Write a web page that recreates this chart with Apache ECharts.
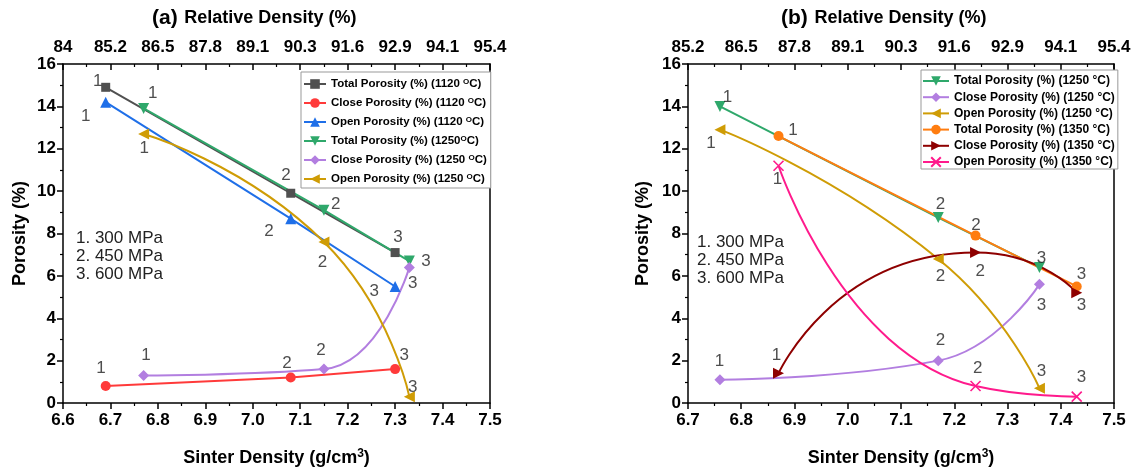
<!DOCTYPE html>
<html><head><meta charset="utf-8">
<script src="https://cdn.jsdelivr.net/npm/echarts@6/dist/echarts.min.js"></script>
<style>html,body{margin:0;padding:0;background:#fff}#c{width:1137px;height:472px}</style>
</head><body><div id="c"></div>
<script>
// ---------- Panel (a) data ----------
const relDensityLabelsA = ['84','85.2','86.5','87.8','89.1','90.3','91.6','92.9','94.1','95.4'];
const sinterA1120 = [6.69, 7.08, 7.30];
const sinterA1250 = [6.77, 7.15, 7.33];
const totalA1120 = [14.9, 9.9, 7.1];
const closeA1120 = [0.8, 1.2, 1.6];
const openA1120  = [14.2, 8.7, 5.5];
const totalA1250 = [13.9, 9.1, 6.7];
const closeA1250 = [1.3, 1.6, 6.4];
const openA1250  = [12.7, 7.6, 0.3];
const namesA = ['Total Porosity (%) (1120 ^OC)','Close Porosity (%) (1120 ^OC)','Open Porosity (%) (1120 ^OC)',
                'Total Porosity (%) (1250^OC)','Close Porosity (%) (1250 ^OC)','Open Porosity (%) (1250 ^OC)'];
// point-number annotations [sinter density, porosity, text]
const annotA = [
  [6.673,15.18,'1'],[6.789,14.64,'1'],[6.648,13.55,'1'],[6.771,12.0,'1'],[6.775,2.23,'1'],[6.68,1.63,'1'],
  [7.07,10.76,'2'],[7.175,9.36,'2'],[7.034,8.09,'2'],[7.147,6.65,'2'],[7.072,1.86,'2'],[7.144,2.47,'2'],
  [7.306,7.81,'3'],[7.365,6.70,'3'],[7.337,5.64,'3'],[7.256,5.26,'3'],[7.319,2.23,'3'],[7.337,0.74,'3']
];

// ---------- Panel (b) data ----------
const relDensityLabelsB = ['85.2','86.5','87.8','89.1','90.3','91.6','92.9','94.1','95.4'];
const sinterB1250 = [6.76, 7.17, 7.36];
const sinterB1350 = [6.87, 7.24, 7.43];
const totalB1250 = [14.0, 8.75, 6.4];
const closeB1250 = [1.1, 2.0, 5.6];
const openB1250  = [12.9, 6.8, 0.7];
const totalB1350 = [12.6, 7.9, 5.5];
const closeB1350 = [1.4, 7.1, 5.2];
const openB1350  = [11.2, 0.8, 0.3];
const namesB = ['Total Porosity (%) (1250 °C)','Close Porosity (%) (1250 °C)','Open Porosity (%) (1250 °C)',
                'Total Porosity (%) (1350 °C)','Close Porosity (%) (1350 °C)','Open Porosity (%) (1350 °C)'];
const annotB = [
  [6.774,14.43,'1'],[6.743,12.25,'1'],[6.897,12.87,'1'],[6.868,10.55,'1'],[6.759,1.96,'1'],[6.866,2.27,'1'],
  [7.174,9.39,'2'],[7.174,5.99,'2'],[7.241,8.40,'2'],[7.249,6.22,'2'],[7.174,2.97,'2'],[7.244,1.66,'2'],
  [7.364,6.84,'3'],[7.439,6.06,'3'],[7.364,4.63,'3'],[7.439,4.63,'3'],[7.364,1.50,'3'],[7.439,1.19,'3']
];

const pressureLabels = ['1. 300 MPa','2. 450 MPa','3. 600 MPa'];
const yTicks = [0,16,2];

// ---------- styles ----------
const FONT = "'Liberation Sans', Arial, sans-serif";
const C = {gray:'#505050', red:'#ff3a3a', blue:'#1f6fe8', green:'#2fa86b', purple:'#b27ee0',
           gold:'#cf9c05', orange:'#ff7d10', dred:'#8e0000', pink:'#ff1a8c'};
const crossPath = 'path://M0,0L10,10M10,0L0,10';

const pair = (xs, ys) => xs.map((x,i)=>[x, ys[i]]);

function mkSeries(name, xs, ys, color, symbol, rot, smooth, gi, size){
  return {
    type:'line', name, data: pair(xs, ys), xAxisIndex: gi*2, yAxisIndex: gi*2,
    smooth: smooth || false, symbol, symbolRotate: rot, symbolSize: size || 10,
    showAllSymbol: true,
    lineStyle:{color, width:2}, itemStyle:{color, borderColor:color, borderWidth: symbol===crossPath?1.6:0},
    emphasis:{disabled:true}, z: 3
  };
}

function annotSeries(list, gi){
  return {
    type:'scatter', data: list.map(a=>({value:[a[0],a[1]], label:{formatter:a[2]}})),
    xAxisIndex: gi*2, yAxisIndex: gi*2, symbolSize:1, itemStyle:{color:'rgba(0,0,0,0)'},
    silent:true, z:5,
    label:{show:true, position:'inside', fontFamily:FONT, fontSize:17, color:'#222'}
  };
}

function bottomAxis(gi, min){
  return {type:'value', gridIndex:gi, position:'bottom', min, max:7.5, interval:0.1,
    axisLine:{show:true, onZero:false, lineStyle:{color:'#000', width:1.5}},
    axisTick:{show:true, length:6, lineStyle:{color:'#000', width:1.5}},
    minorTick:{show:true, splitNumber:2, length:3, lineStyle:{color:'#000', width:1.2}},
    splitLine:{show:false},
    axisLabel:{fontFamily:FONT, fontWeight:'bold', fontSize:17, color:'#000', margin:9,
      formatter: v => v.toFixed(1)},
    name:'Sinter Density (g/cm{s|3})', nameLocation:'middle', nameGap:45,
    nameTextStyle:{fontFamily:FONT, fontWeight:'bold', fontSize:18, color:'#000',
      rich:{s:{fontSize:12, fontWeight:'bold', fontFamily:FONT, verticalAlign:'top', padding:[0,0,8,0]}}}
  };
}
function topAxis(gi, min, labels){
  return {type:'value', gridIndex:gi, position:'top', min, max:7.5, interval:0.1,
    axisLine:{show:true, onZero:false, lineStyle:{color:'#000', width:1.5}},
    axisTick:{show:true, inside:true, length:6, lineStyle:{color:'#000', width:1.5}},
    minorTick:{show:true, splitNumber:2, length:3, lineStyle:{color:'#000', width:1.2}},
    splitLine:{show:false},
    axisLabel:{fontFamily:FONT, fontWeight:'bold', fontSize:17, color:'#000', margin:8,
      formatter: v => labels[Math.round((v-min)/0.1)] || ''}
  };
}
function leftAxis(gi, gap){
  return {type:'value', gridIndex:gi, position:'left', min:yTicks[0], max:yTicks[1], interval:yTicks[2],
    axisLine:{show:true, onZero:false, lineStyle:{color:'#000', width:1.5}},
    axisTick:{show:true, length:6, lineStyle:{color:'#000', width:1.5}},
    minorTick:{show:true, splitNumber:2, length:3, lineStyle:{color:'#000', width:1.2}},
    splitLine:{show:false},
    axisLabel:{fontFamily:FONT, fontWeight:'bold', fontSize:17, color:'#000', margin:7},
    name:'Porosity (%)', nameLocation:'middle', nameGap:gap, nameRotate:90,
    nameTextStyle:{fontFamily:FONT, fontWeight:'bold', fontSize:18, color:'#000'}
  };
}
function rightAxis(gi){
  return {type:'value', gridIndex:gi, position:'right', min:yTicks[0], max:yTicks[1], interval:yTicks[2],
    axisLine:{show:true, onZero:false, lineStyle:{color:'#000', width:1.5}},
    axisTick:{show:false}, axisLabel:{show:false}, splitLine:{show:false}};
}

const series = [
  mkSeries(namesA[0], sinterA1120, totalA1120, C.gray, 'rect', 0, 0, 0, 9),
  mkSeries(namesA[1], sinterA1120, closeA1120, C.red, 'circle', 0, 0, 0, 10),
  mkSeries(namesA[2], sinterA1120, openA1120, C.blue, 'triangle', 0, 0, 0, 11),
  mkSeries(namesA[3], sinterA1250, totalA1250, C.green, 'triangle', 180, 0, 0, 11),
  mkSeries(namesA[4], sinterA1250, closeA1250, C.purple, 'diamond', 0, 0.5, 0, 11),
  mkSeries(namesA[5], sinterA1250, openA1250, C.gold, 'triangle', 90, 0.55, 0, 11),
  mkSeries(namesB[0], sinterB1250, totalB1250, C.green, 'triangle', 180, 0, 1, 11),
  mkSeries(namesB[1], sinterB1250, closeB1250, C.purple, 'diamond', 0, 0.5, 1, 11),
  mkSeries(namesB[2], sinterB1250, openB1250, C.gold, 'triangle', 90, 0.55, 1, 11),
  mkSeries(namesB[3], sinterB1350, totalB1350, C.orange, 'circle', 0, 0, 1, 10),
  mkSeries(namesB[4], sinterB1350, closeB1350, C.dred, 'triangle', -90, 0.7, 1, 11),
  mkSeries(namesB[5], sinterB1350, openB1350, C.pink, crossPath, 0, 0.6, 1, 10),
  annotSeries(annotA, 0),
  annotSeries(annotB, 1)
];

const legendA = {
  data: namesA, orient:'vertical', left:301, top:72, itemWidth:22, itemHeight:12, itemGap:6,
  padding:[6,4,2,2], borderColor:'#999', borderWidth:1, backgroundColor:'#fff',
  selectedMode:false,
  formatter: n => { const p = n.split('^O'); return '{t|'+p[0]+'}{s|O}{t|'+p[1]+'}'; },
  textStyle:{fontFamily:FONT, fontWeight:'bold', fontSize:11.5, color:'#000',
    rich:{t:{fontFamily:FONT, fontWeight:'bold', fontSize:11.5, color:'#000', lineHeight:12},
          s:{fontFamily:FONT, fontWeight:'bold', fontSize:8, color:'#000', verticalAlign:'top', lineHeight:12, padding:[0,0,5,0]}}}
};
const legendB = {
  data: namesB, orient:'vertical', left:921, top:70, itemWidth:26, itemHeight:12, itemGap:4.2,
  padding:[5,3,1,1], borderColor:'#999', borderWidth:1, backgroundColor:'#fff',
  selectedMode:false,
  textStyle:{fontFamily:FONT, fontWeight:'bold', fontSize:12, color:'#000', lineHeight:12}
};

const titleText = (tag, left) => ({
  type:'text', left, top:8, silent:true,
  style:{text:'{p|'+tag+'}  {r|Relative Density (%)}', fill:'#000',
    rich:{p:{fontFamily:FONT, fontWeight:'bold', fontSize:21, fill:'#000'},
          r:{fontFamily:FONT, fontWeight:'bold', fontSize:18, fill:'#000'}}}
});
const mpaText = (left, top) => ({
  type:'text', left, top, silent:true,
  style:{text: pressureLabels.join('\n'), fontFamily:FONT, fontSize:17, lineHeight:18, fill:'#222'}
});

const option = {
  animation:false,
  backgroundColor:'#fff',
  grid:[{left:63, top:64, width:427, height:344}, {left:688, top:64, width:426, height:344}],
  xAxis:[bottomAxis(0,6.6), topAxis(0,6.6,relDensityLabelsA), bottomAxis(1,6.7), topAxis(1,6.7,relDensityLabelsB)],
  yAxis:[leftAxis(0,34), rightAxis(0), leftAxis(1,36), rightAxis(1)],
  legend:[legendA, legendB],
  series,
  graphic:[titleText('(a)',152), titleText('(b)',781), mpaText(76,229), mpaText(697,233)]
};
const chart = echarts.init(document.getElementById('c'), null, {renderer:'canvas'});
chart.setOption(option);
</script></body></html>
